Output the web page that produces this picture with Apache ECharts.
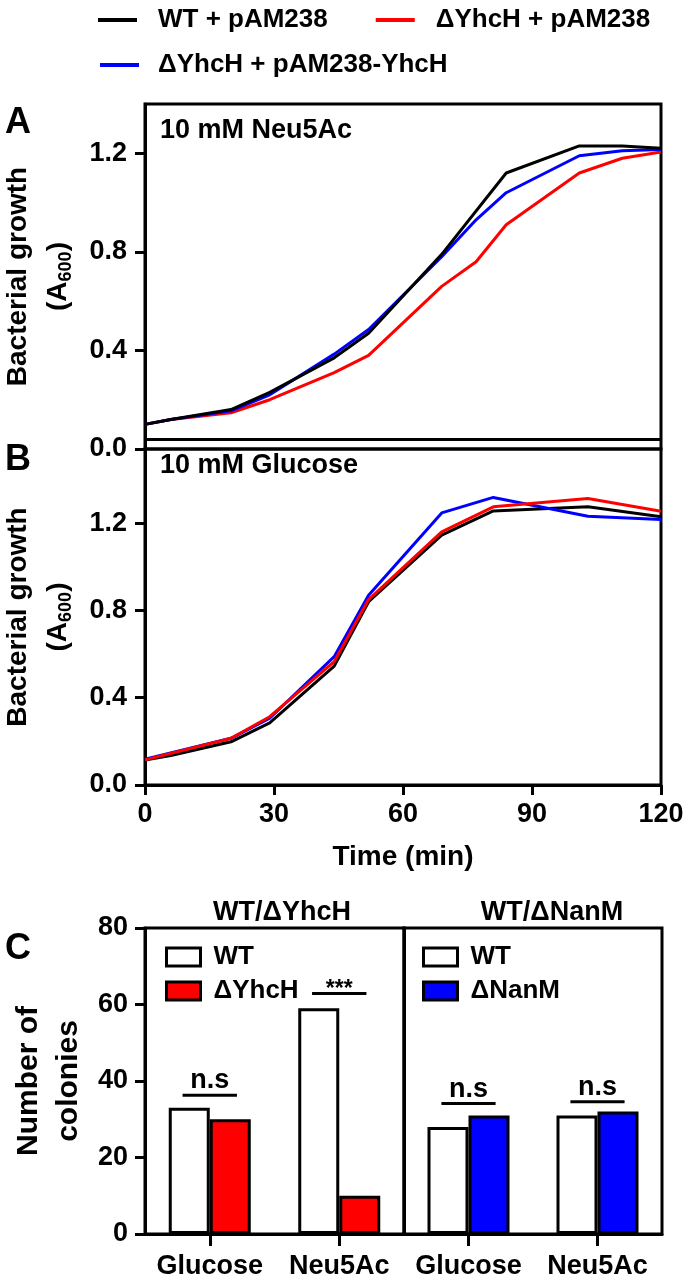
<!DOCTYPE html>
<html>
<head>
<meta charset="utf-8">
<script src="https://cdn.jsdelivr.net/npm/echarts@6/dist/echarts.min.js"></script>
<style>
html, body { margin: 0; padding: 0; background: #fff; }
#main { width: 687px; height: 1285px; }
</style>
</head>
<body>
<div id="main"></div>
<script>
// A: 10 mM Neu5Ac
var timeA = [0, 6, 20, 29, 44, 52, 69, 77, 84, 101, 111, 120];
var wtA = [0.10, 0.12, 0.16, 0.23, 0.37, 0.47, 0.79, null, 1.12, 1.23, 1.23, 1.22];
var delA = [0.10, 0.12, 0.147, 0.20, 0.31, 0.38, 0.66, 0.76, 0.91, 1.12, 1.18, 1.205];
var compA = [0.10, 0.12, 0.155, 0.22, 0.385, 0.485, 0.78, 0.93, 1.04, 1.19, 1.21, 1.215];

// B: 10 mM Glucose
var timeB = [0, 6, 20, 29, 44, 52, 69, 81, 103, 120];
var wtB = [0.115, 0.135, 0.198, 0.285, 0.545, 0.84, 1.145, 1.256, 1.275, 1.229];
var delB = [0.115, null, 0.214, 0.313, 0.565, 0.85, 1.16, 1.275, 1.313, 1.255];
var compB = [0.118, null, 0.214, 0.306, 0.588, 0.87, 1.247, 1.318, 1.232, 1.217];

var growthTicks = [0, 0.4, 0.8, 1.2];

// C: 菌落数
var sugars = ['Glucose', 'Neu5Ac'];
var wtYhcH = [33, 59];
var yhcH = [30, 10];
var wtNanM = [28, 31];
var nanM = [31, 32];
var sigYhcH = [[0, 36.3], [1, 62.9]];
var sigYhcHText = ['n.s', '***'];
var sigNanM = [[0, 34.1], [1, 34.6]];
var sigNanMText = ['n.s', 'n.s'];

var FONT = '"Liberation Sans", Arial, sans-serif';
var names = ['WT + pAM238', 'ΔYhcH + pAM238', 'ΔYhcH + pAM238-YhcH'];
var colors = ['#000000', '#ff0000', '#0000ff'];

function pairs(t, v) {
  return t.map(function (x, i) { return [x, v[i]]; });
}

function lineSeries(name, color, t, v, idx) {
  return {
    name: name, type: 'line', xAxisIndex: idx, yAxisIndex: idx,
    data: pairs(t, v), showSymbol: false, connectNulls: true,
    lineStyle: { color: color, width: 3 }, itemStyle: { color: color },
    animation: false
  };
}

// 显著性标注: 横线 + 文本
function sigRender(texts) {
  return function (params, api) {
    var c = api.coord([api.value(0), api.value(1)]);
    var half = api.size([1, 0])[0] * 0.21;
    var txt = texts[params.dataIndex];
    var star = txt === '***';
    var children = [
      { type: 'line', shape: { x1: c[0] - half, y1: c[1], x2: c[0] + half, y2: c[1] },
        style: { stroke: '#000', lineWidth: 3 } },
      { type: 'text', x: c[0], y: star ? c[1] + 8 : c[1] - 1,
        style: { text: txt, fill: '#000', fontSize: star ? 23 : 27, fontWeight: 'bold',
                 fontFamily: FONT, align: 'center', verticalAlign: 'bottom' } }
    ];
    return { type: 'group', children: children };
  };
}

var axisBlack = { lineStyle: { color: '#000', width: 3 } };
var tickOut = { show: true, inside: false, length: 10, lineStyle: { color: '#000', width: 3 } };
var labelBold = { color: '#000', fontSize: 27, fontWeight: 'bold', fontFamily: FONT };
var nameStyle = {
  color: '#000', fontSize: 28, fontWeight: 'bold', fontFamily: FONT, lineHeight: 40,
  rich: { sub: { fontSize: 18, fontWeight: 'bold', fontFamily: FONT, padding: [14, 0, 0, 0] } }
};

function growthY(max) {
  return {
    type: 'value', min: 0, max: max,
    axisLine: { show: true, lineStyle: axisBlack.lineStyle },
    axisTick: Object.assign({ customValues: growthTicks }, tickOut),
    axisLabel: Object.assign({ customValues: growthTicks, margin: 18,
      formatter: function (v) { return v.toFixed(1); } }, labelBold),
    splitLine: { show: false },
    name: 'Bacterial growth\n(A{sub|600})', nameLocation: 'middle', nameGap: 66,
    nameTextStyle: nameStyle
  };
}

function sugarX(idx) {
  return {
    gridIndex: idx, type: 'category', data: sugars,
    axisLine: { show: true, lineStyle: { color: '#000', width: 3 } },
    axisTick: { show: true, alignWithLabel: true, interval: 0, inside: false, length: 12,
                lineStyle: { color: '#000', width: 3 } },
    axisLabel: Object.assign({ margin: 19, interval: 0 }, labelBold),
    splitLine: { show: false }
  };
}

var chart = echarts.init(document.getElementById('main'));
var option = {
  backgroundColor: '#fff',
  animation: false,
  grid: [
    { left: 145, right: 26, top: 104, height: 345, show: true, borderColor: '#000', borderWidth: 3, outerBoundsMode: 'none' },
    { left: 145, right: 26, top: 449, height: 336, show: true, borderColor: '#000', borderWidth: 3, outerBoundsMode: 'none' },
    { left: 145, width: 259, top: 928, height: 306, show: true, borderColor: '#000', borderWidth: 3, outerBoundsMode: 'none' },
    { left: 404, width: 258, top: 928, height: 306, show: true, borderColor: '#000', borderWidth: 3, outerBoundsMode: 'none' }
  ],
  legend: [
    { left: 93, top: 2, itemGap: 48, itemWidth: 39, itemHeight: 4, icon: 'rect',
      data: names.slice(0, 2), itemStyle: { borderWidth: 0 },
      textStyle: { color: '#000', fontSize: 26, fontWeight: 'bold', fontFamily: FONT, padding: [0, 0, 0, 16] } },
    { left: 95, top: 47, itemWidth: 39, itemHeight: 4, icon: 'rect',
      data: names.slice(2), itemStyle: { borderWidth: 0 },
      textStyle: { color: '#000', fontSize: 26, fontWeight: 'bold', fontFamily: FONT, padding: [0, 0, 0, 14] } },
    { left: 160, top: 939, orient: 'vertical', itemGap: 8, itemWidth: 34, itemHeight: 18, icon: 'rect',
      data: ['WT', 'ΔYhcH'], itemStyle: { borderColor: '#000', borderWidth: 3 },
      textStyle: { color: '#000', fontSize: 26, fontWeight: 'bold', fontFamily: FONT, lineHeight: 26, padding: [0, 0, 0, 8] } },
    { left: 417, top: 939, orient: 'vertical', itemGap: 8, itemWidth: 34, itemHeight: 18, icon: 'rect',
      data: ['WT', 'ΔNanM'], itemStyle: { borderColor: '#000', borderWidth: 3 },
      textStyle: { color: '#000', fontSize: 26, fontWeight: 'bold', fontFamily: FONT, lineHeight: 26, padding: [0, 0, 0, 8] } }
  ],
  xAxis: [
    { gridIndex: 0, type: 'value', min: 0, max: 120, interval: 30,
      axisLine: { show: false }, axisTick: { show: false }, axisLabel: { show: false }, splitLine: { show: false } },
    { gridIndex: 1, type: 'value', min: 0, max: 120, interval: 30,
      axisLine: axisBlack, axisTick: tickOut, axisLabel: Object.assign({ margin: 16 }, labelBold),
      splitLine: { show: false },
      name: 'Time (min)', nameLocation: 'middle', nameGap: 58,
      nameTextStyle: { color: '#000', fontSize: 28, fontWeight: 'bold', fontFamily: FONT } },
    sugarX(2),
    sugarX(3)
  ],
  yAxis: [
    Object.assign({ gridIndex: 0 }, growthY(1.4)),
    Object.assign({ gridIndex: 1 }, growthY(1.54)),
    { gridIndex: 2, type: 'value', min: 0, max: 80, interval: 20,
      axisLine: { show: true, lineStyle: axisBlack.lineStyle }, axisTick: tickOut,
      axisLabel: Object.assign({ margin: 17 }, labelBold), splitLine: { show: false },
      name: 'Number of\ncolonies', nameLocation: 'middle', nameGap: 56,
      nameTextStyle: { color: '#000', fontSize: 30, fontWeight: 'bold', fontFamily: FONT, lineHeight: 40 } },
    { gridIndex: 3, type: 'value', min: 0, max: 80, interval: 20,
      axisLine: { show: true, lineStyle: axisBlack.lineStyle }, axisTick: { show: false },
      axisLabel: { show: false }, splitLine: { show: false } }
  ],
  series: [
    Object.assign(lineSeries(names[1], colors[1], timeA, delA, 0), {
      markLine: { silent: true, symbol: 'none', label: { show: false },
        lineStyle: { color: '#000', width: 3, type: 'solid' }, data: [{ yAxis: 0.037 }] } }),
    lineSeries(names[2], colors[2], timeA, compA, 0),
    lineSeries(names[0], colors[0], timeA, wtA, 0),
    lineSeries(names[0], colors[0], timeB, wtB, 1),
    lineSeries(names[2], colors[2], timeB, compB, 1),
    lineSeries(names[1], colors[1], timeB, delB, 1),
    { name: 'WT', type: 'bar', xAxisIndex: 2, yAxisIndex: 2, data: wtYhcH, barWidth: 41, barGap: '0%',
      itemStyle: { color: '#ffffff', borderColor: '#000', borderWidth: 3 } },
    { name: 'ΔYhcH', type: 'bar', xAxisIndex: 2, yAxisIndex: 2, data: yhcH, barWidth: 41, barGap: '0%',
      itemStyle: { color: '#ff0000', borderColor: '#000', borderWidth: 3 } },
    { name: 'WT', type: 'bar', xAxisIndex: 3, yAxisIndex: 3, data: wtNanM, barWidth: 41, barGap: '0%',
      itemStyle: { color: '#ffffff', borderColor: '#000', borderWidth: 3 } },
    { name: 'ΔNanM', type: 'bar', xAxisIndex: 3, yAxisIndex: 3, data: nanM, barWidth: 41, barGap: '0%',
      itemStyle: { color: '#0000ff', borderColor: '#000', borderWidth: 3 } },
    { type: 'custom', xAxisIndex: 2, yAxisIndex: 2, data: sigYhcH, renderItem: sigRender(sigYhcHText), silent: true },
    { type: 'custom', xAxisIndex: 3, yAxisIndex: 3, data: sigNanM, renderItem: sigRender(sigNanMText), silent: true }
  ],
  graphic: [
    { type: 'text', x: 5, y: 123, style: { text: 'A', fontSize: 36, fontWeight: 'bold', fontFamily: FONT, fill: '#000', verticalAlign: 'middle' } },
    { type: 'text', x: 5, y: 460, style: { text: 'B', fontSize: 36, fontWeight: 'bold', fontFamily: FONT, fill: '#000', verticalAlign: 'middle' } },
    { type: 'text', x: 5, y: 949, style: { text: 'C', fontSize: 36, fontWeight: 'bold', fontFamily: FONT, fill: '#000', verticalAlign: 'middle' } },
    { type: 'text', x: 160, y: 131, style: { text: '10 mM Neu5Ac', fontSize: 27, fontWeight: 'bold', fontFamily: FONT, fill: '#000', verticalAlign: 'middle' } },
    { type: 'text', x: 160, y: 466, style: { text: '10 mM Glucose', fontSize: 27, fontWeight: 'bold', fontFamily: FONT, fill: '#000', verticalAlign: 'middle' } },
    { type: 'text', x: 282, y: 913, style: { text: 'WT/ΔYhcH', fontSize: 27, fontWeight: 'bold', fontFamily: FONT, fill: '#000', align: 'center', verticalAlign: 'middle' } },
    { type: 'text', x: 552, y: 913, style: { text: 'WT/ΔNanM', fontSize: 27, fontWeight: 'bold', fontFamily: FONT, fill: '#000', align: 'center', verticalAlign: 'middle' } }
  ]
};
chart.setOption(option);
window.addEventListener('resize', function () {
  chart.resize();
});
</script>
</body>
</html>
